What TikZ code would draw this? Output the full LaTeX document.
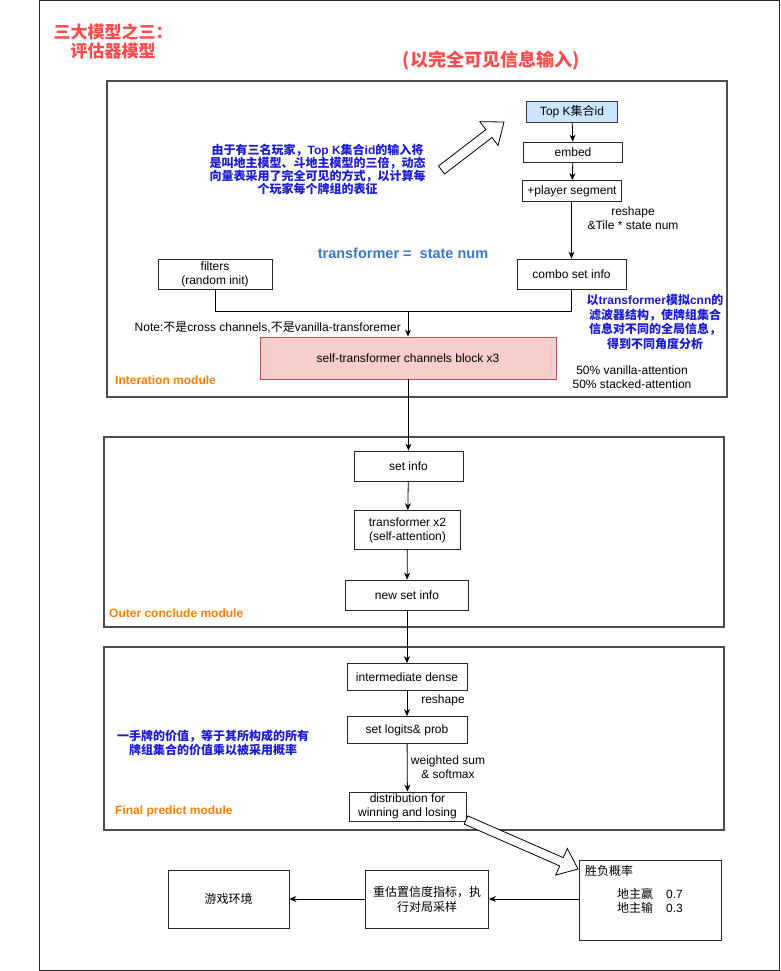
\documentclass[tikz,border=0pt]{standalone}
\usepackage{fontspec}
\setmainfont{Liberation Sans}
\newfontfamily\zhfont{Noto Sans CJK SC}
\newcommand\zh[1]{{\zhfont #1}}
\usetikzlibrary{arrows.meta,calc}
\definecolor{titlered}{HTML}{FF4D4D}
\definecolor{textblue}{HTML}{1C1CD6}
\definecolor{tfblue}{HTML}{3A78C8}
\definecolor{modorange}{HTML}{FF8000}
\definecolor{topkfill}{HTML}{CCE5FF}
\definecolor{topkdraw}{HTML}{36393D}
\definecolor{selffill}{HTML}{F8CECC}
\definecolor{selfdraw}{HTML}{B85450}
\tikzset{
  box/.style={draw=black!85, line width=0.8pt, fill=white, align=center,
    inner sep=0pt, font=\fontsize{12}{14}\selectfont},
  zhbox/.style={box, font=\zhfont\fontsize{12}{15}\selectfont},
  module/.style={draw=black!70, line width=1.2pt},
  frame/.style={draw=black!85, line width=1pt},
  arr/.style={-{Stealth[length=7pt,width=6pt]}, line width=0.8pt},
  conn/.style={line width=0.8pt},
  lbl/.style={align=center, inner sep=0pt, font=\fontsize{12}{14}\selectfont},
  bluetxt/.style={align=center, inner sep=0pt, text=textblue},
  modlbl/.style={anchor=west, inner sep=0pt, text=modorange,
    font=\fontsize{12}{14}\selectfont\bfseries},
  hollow/.style={draw=black, line width=0.8pt, fill=white, line join=miter},
}
\newcommand\hollowarrow[5]{%
  \coordinate (hT) at (#1);
  \coordinate (hH) at (#2);
  \coordinate (hM) at ($(hH)!#5!(hT)$);
  \draw[hollow] ($(hT)!#3!90:(hH)$) -- ($(hM)!#3!90:(hH)$) -- ($(hM)!#4!90:(hH)$)
    -- (hH) -- ($(hM)!#4!-90:(hH)$) -- ($(hM)!#3!-90:(hH)$) -- ($(hT)!#3!-90:(hH)$) -- cycle;
}
\begin{document}
\begin{tikzpicture}[x=1pt,y=-1pt]
\useasboundingbox (0,0) rectangle (780,971);
\fill[white] (0,0) rectangle (780,971);

% outer frame and modules
\draw[frame] (39,1) rectangle (779,970);
\draw[module] (107,81) rectangle (727,397);
\draw[module] (104,437) rectangle (724,627);
\draw[module] (104,647) rectangle (724,830);

% titles
\node[align=center, inner sep=0pt, text=titlered, font=\zhfont\fontsize{17}{19}\selectfont\bfseries]
  (title) at (113,41.5) {三大模型之三：\\评估器模型};
\node[inner sep=0pt, text=titlered, font=\zhfont\fontsize{18}{20}\selectfont\bfseries]
  (subtitle) at (491,61) {(以完全可见信息输入)};

% interaction module
\node[box, fill=topkfill, draw=topkdraw, minimum width=91pt, minimum height=21pt]
  (topk) at (572,112) {Top K\zh{集合}id};
\node[box, minimum width=99pt, minimum height=20pt] (embed) at (573,152) {embed};
\node[box, minimum width=99pt, minimum height=21pt] (player) at (572,191) {+player segment};
\node[box, minimum width=109pt, minimum height=30pt] (combo) at (571.5,274) {combo set info};
\node[box, minimum width=114pt, minimum height=30pt] (filters) at (215,274) {filters\\(random init)};
\node[box, fill=selffill, draw=selfdraw, minimum width=296pt, minimum height=42pt]
  (selft) at (408,358) {self-transformer channels block x3};

\node[lbl] (reshape1) at (633,218) {reshape\\\&Tile * state num};
\node[inner sep=0pt, text=tfblue, font=\fontsize{14.5}{16}\selectfont\bfseries]
  (tfeq) at (403,253) {transformer =\ \ state num};
\node[bluetxt, font=\fontsize{12}{13}\selectfont\bfseries] (note1) at (317.5,169.5)
  {\zh{由于有三名玩家，}Top K\zh{集合}id\zh{的输入将}\\
   \zh{是叫地主模型、斗地主模型的三倍，动态}\\
   \zh{向量表采用了完全可见的方式，以计算每}\\
   \zh{个玩家每个牌组的表征}};
\node[bluetxt, font=\fontsize{12}{14.5}\selectfont\bfseries] (note2) at (655,322)
  {\zh{以}transformer\zh{模拟}cnn\zh{的}\\
   \zh{滤波器结构，使牌组集合}\\
   \zh{信息对不同的全局信息，}\\
   \zh{得到不同角度分析}};
\node[lbl, anchor=east] (note3) at (401,327)
  {Note:\zh{不是}cross channels,\zh{不是}vanilla-transforemer};
\node[lbl] (attn) at (632,377) {50\% vanilla-attention\\50\% stacked-attention};
\node[modlbl] (m1) at (115,380) {Interation module};

\coordinate (merge) at (408,311);
\draw[arr] (topk) -- (embed);
\draw[arr] (embed) -- (player);
\draw[arr] (player.south -| combo.north) -- (combo.north);
\draw[conn] (filters.south) |- (merge);
\draw[conn] (combo.south) |- (merge);
\draw[arr] (merge) -- (selft.north);

% outer conclude module
\node[box, minimum width=109pt, minimum height=30pt] (setinfo) at (408.5,466) {set info};
\node[box, minimum width=106pt, minimum height=39pt] (tx2) at (407.5,530) {transformer x2\\(self-attention)};
\node[box, minimum width=123pt, minimum height=30pt] (newset) at (407,595) {new set info};
\node[modlbl] (m2) at (109,613) {Outer conclude module};
\draw[arr] (selft.south -| setinfo.north) -- (setinfo.north);
\draw[arr] (setinfo) -- (tx2);
\draw[arr] (tx2) -- (newset);

% final predict module
\node[box, minimum width=120pt, minimum height=27pt] (interm) at (407,677) {intermediate dense};
\node[box, minimum width=120pt, minimum height=27pt] (logits) at (407,730) {set logits\& prob};
\node[box, minimum width=117pt, minimum height=29pt] (dist) at (407.5,806.5) {distribution for\\winning and losing};
\node[lbl] (reshape2) at (443,700) {reshape};
\node[lbl] (wsum) at (448,767) {weighted sum\\\& softmax};
\node[bluetxt, font=\zhfont\fontsize{12}{14}\selectfont\bfseries] (note4) at (213,743)
  {一手牌的价值，等于其所构成的所有\\牌组集合的价值乘以被采用概率};
\node[modlbl] (m3) at (115,811) {Final predict module};
\draw[arr] (newset) -- (interm);
\draw[arr] (interm) -- (logits);
\draw[arr] (logits) -- (dist);

% bottom row
\node[box, minimum width=142pt, minimum height=80pt] (prob) at (650.5,900) {};
\node[lbl, anchor=west, font=\zhfont\fontsize{12}{14}\selectfont] (probt) at (585,871) {胜负概率};
\node[lbl] (probv) at (650,900.5)
  {\zh{地主赢}\hspace{13pt}0.7\\\zh{地主输}\hspace{13pt}0.3};
\node[zhbox, minimum width=123pt, minimum height=58pt] (resample) at (427,899)
  {重估置信度指标，执\\行对局采样};
\node[zhbox, minimum width=121pt, minimum height=58pt] (env) at (228.5,899) {游戏环境};
\draw[arr] (prob.west |- resample.east) -- (resample.east);
\draw[arr] (resample) -- (env);

% hollow block arrows
\hollowarrow{441.5,170}{504,122}{5pt}{15pt}{19pt}
\hollowarrow{466,820}{578,869}{4.5pt}{14.5pt}{18pt}
\end{tikzpicture}
\end{document}
